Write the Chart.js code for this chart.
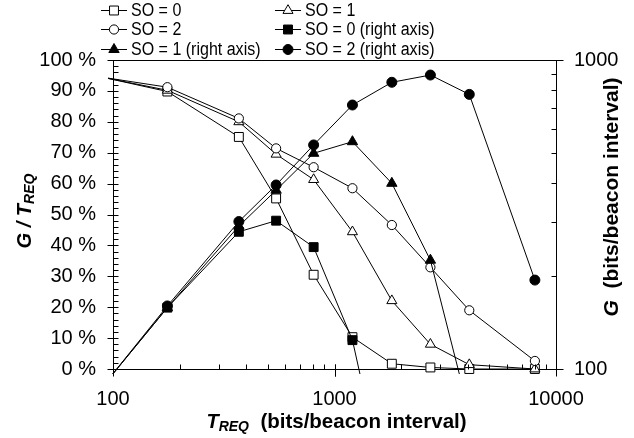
<!DOCTYPE html>
<html>
<head>
<meta charset="utf-8">
<script src="https://cdn.jsdelivr.net/npm/chart.js@4"></script>
<style>
  body { margin: 0; background: #fff; }
  canvas { display: block; }
</style>
</head>
<body>
<canvas id="chart" width="634" height="438"></canvas>
<script>
// T_REQ values (bits/beacon interval); first one lies just left of the axis
const tReq = [90, 176, 370, 545, 805, 1205, 1815, 2710, 4060, 8030];

// G / T_REQ in %, left axis
const ratioSO0 = [94.4, 89.8, 75.1, 55.2, 30.5, 10.3, 1.7, 0.5, 0, 0];
const ratioSO1 = [94.4, 90.2, 80.0, 69.5, 61.3, 44.4, 22.1, 8.0, 1.4, 0];
const ratioSO2 = [94.4, 91.2, 81.1, 71.4, 65.3, 58.5, 46.6, 32.9, 19.0, 2.6];

// G in bits/beacon interval, right axis
const goodSO0 = [88, 158, 278, 302, 248, 124, 33, null, null, null];
const goodSO1 = [88, 158, 290, 379, 499, 544, 399, 225, 72, null];
const goodSO2 = [88, 160, 300, 394, 531, 715, 847, 894, 774, 194];

const leftTicks = [0, 10, 20, 30, 40, 50, 60, 70, 80, 90, 100];
const logLabels = [100, 1000, 10000];

const FONT = "'Liberation Sans', Arial, sans-serif";

function pts(ys) {
  return tReq.map((x, i) => ({ x: x, y: ys[i] }));
}

function series(label, ys, axis, style, radius, filled, idx) {
  return {
    label: label,
    data: pts(ys),
    yAxisID: axis,
    borderColor: '#000',
    borderWidth: 1,
    pointStyle: style,
    radius: radius,
    // no marker for the off-axis starting point
    pointRadius: tReq.map((x, i) => i === 0 ? 0 : radius),
    pointBorderWidth: 1,
    pointBorderColor: '#000',
    pointBackgroundColor: filled ? '#000' : '#fff',
    tension: 0,
    spanGaps: false,
    clip: { left: 5, top: 0, right: 0, bottom: 5 },
    order: 10 - idx
  };
}

// draws one marker like chart.js does
function marker(ctx, style, r, x, y, filled) {
  ctx.save();
  ctx.fillStyle = filled ? '#000' : '#fff';
  ctx.strokeStyle = '#000';
  ctx.lineWidth = 1;
  ctx.beginPath();
  if (style === 'rect') {
    const s = Math.SQRT1_2 * r;
    ctx.rect(x - s, y - s, 2 * s, 2 * s);
  } else if (style === 'triangle') {
    for (let k = 0; k < 3; k++) {
      const a = k * 2 * Math.PI / 3;
      const px = x + Math.sin(a) * r, py = y - Math.cos(a) * r;
      if (k === 0) ctx.moveTo(px, py); else ctx.lineTo(px, py);
    }
    ctx.closePath();
  } else {
    ctx.arc(x, y, r, 0, 2 * Math.PI);
  }
  ctx.fill();
  ctx.stroke();
  ctx.restore();
}

function richText(ctx, parts, x, y) {
  ctx.textAlign = 'left';
  ctx.textBaseline = 'alphabetic';
  let w = 0;
  parts.forEach(p => { ctx.font = p.font; w += ctx.measureText(p.text).width; });
  let cx = x - w / 2;
  parts.forEach(p => {
    ctx.font = p.font;
    ctx.fillText(p.text, cx, y + (p.dy || 0));
    cx += ctx.measureText(p.text).width;
  });
}

function seg(ctx, x1, y1, x2, y2) {
  ctx.beginPath();
  ctx.moveTo(x1, y1);
  ctx.lineTo(x2, y2);
  ctx.stroke();
}

const extras = {
  id: 'extras',
  afterDraw(chart) {
    const ctx = chart.ctx;
    const a = chart.chartArea;
    const sx = chart.scales.x, sy = chart.scales.y, sy2 = chart.scales.y2;
    ctx.save();
    ctx.setLineDash([]);
    ctx.strokeStyle = '#000';
    ctx.lineWidth = 1;
    const L = Math.round(a.left) + 0.5, R = Math.round(a.right) + 0.5;
    const T = Math.round(a.top) + 0.5, B = Math.round(a.bottom) + 0.5;
    // top frame line
    seg(ctx, L, T, R, T);
    // left axis ticks
    for (let v = 0; v <= 100; v += 2) {
      const y = Math.round(sy.getPixelForValue(v)) + 0.5;
      seg(ctx, L - (v % 10 === 0 ? 6 : 0), y, L + 5, y);
    }
    // x axis ticks
    [100, 1000].forEach(d => {
      for (let m = 1; m <= 10; m++) {
        const x = Math.round(sx.getPixelForValue(d * m)) + 0.5;
        seg(ctx, x, B - 5, x, B + ((m === 1 || m === 10) ? 7 : 0));
      }
    });
    // right axis ticks
    for (let m = 1; m <= 10; m++) {
      const y = Math.round(sy2.getPixelForValue(100 * m)) + 0.5;
      seg(ctx, R - 5, y, R + ((m === 1 || m === 10) ? 7 : 0), y);
    }

    // axis titles
    ctx.fillStyle = '#000';
    richText(ctx, [
      { text: 'T', font: 'italic bold 20px ' + FONT },
      { text: 'REQ', font: 'italic bold 14px ' + FONT, dy: 3 },
      { text: '  (bits/beacon interval)', font: 'bold 20.5px ' + FONT }
    ], (a.left + a.right) / 2 + 2, 428);

    ctx.save();
    ctx.translate(31, 211);
    ctx.rotate(-Math.PI / 2);
    richText(ctx, [
      { text: 'G / T', font: 'italic bold 20px ' + FONT },
      { text: 'REQ', font: 'italic bold 14px ' + FONT, dy: 3 }
    ], 0, 0);
    ctx.restore();

    ctx.save();
    ctx.translate(618, 197);
    ctx.rotate(-Math.PI / 2);
    richText(ctx, [
      { text: 'G', font: 'italic bold 21px ' + FONT },
      { text: '  (bits/beacon interval)', font: 'bold 21px ' + FONT }
    ], 0, 0);
    ctx.restore();

    // legend, two columns by three rows
    const colX = [101, 275];
    const rowY = [9.5, 29, 48.5];
    chart.data.datasets.forEach((ds, i) => {
      const x0 = colX[i % 2], y0 = Math.round(rowY[Math.floor(i / 2)]) + 0.5;
      seg(ctx, x0, y0, x0 + 26, y0);
      marker(ctx, ds.pointStyle, ds.radius, x0 + 13, y0,
        ds.pointBackgroundColor === '#000');
      ctx.save();
      ctx.translate(x0 + 30, y0);
      ctx.scale(0.89, 1);
      ctx.font = '18px ' + FONT;
      ctx.fillStyle = '#000';
      ctx.textBaseline = 'middle';
      ctx.textAlign = 'left';
      ctx.fillText(ds.label, 0, 1);
      ctx.restore();
    });
    ctx.restore();
  }
};

new Chart(document.getElementById('chart'), {
  type: 'line',
  data: {
    datasets: [
      series('SO = 0', ratioSO0, 'y', 'rect', 6.3, false, 0),
      series('SO = 1', ratioSO1, 'y', 'triangle', 5.8, false, 1),
      series('SO = 2', ratioSO2, 'y', 'circle', 4.6, false, 2),
      series('SO = 0 (right axis)', goodSO0, 'y2', 'rect', 6.3, true, 3),
      series('SO = 1 (right axis)', goodSO1, 'y2', 'triangle', 6, true, 4),
      series('SO = 2 (right axis)', goodSO2, 'y2', 'circle', 5, true, 5)
    ]
  },
  options: {
    responsive: false,
    animation: false,
    devicePixelRatio: 1,
    layout: { padding: { top: 60, left: 0, right: 0, bottom: 0 } },
    plugins: { legend: { display: false }, tooltip: { enabled: false } },
    scales: {
      x: {
        type: 'logarithmic',
        min: 100,
        max: 10000,
        grid: { display: false, drawTicks: false },
        border: { display: true, color: '#000', width: 1 },
        ticks: {
          autoSkip: false,
          maxRotation: 0,
          padding: 18,
          color: '#000',
          font: { family: FONT, size: 20 },
          callback: v => logLabels.includes(v) ? String(v) : ''
        },
        afterFit: s => { s.height = 69; }
      },
      y: {
        type: 'linear',
        position: 'left',
        min: 0,
        max: 100,
        grid: { display: false, drawTicks: false },
        border: { display: true, color: '#000', width: 1 },
        ticks: {
          stepSize: 10,
          padding: 17,
          color: '#000',
          font: { family: FONT, size: 20 },
          callback: v => leftTicks.includes(v) ? v + ' %' : ''
        },
        afterFit: s => { s.width = 113; }
      },
      y2: {
        type: 'logarithmic',
        position: 'right',
        min: 100,
        max: 1000,
        grid: { display: false, drawTicks: false },
        border: { display: true, color: '#000', width: 1 },
        ticks: {
          autoSkip: false,
          padding: 18,
          color: '#000',
          font: { family: FONT, size: 20 },
          callback: v => (v === 100 || v === 1000) ? String(v) : ''
        },
        afterFit: s => { s.width = 78; }
      }
    }
  },
  plugins: [extras]
});
</script>
</body>
</html>
